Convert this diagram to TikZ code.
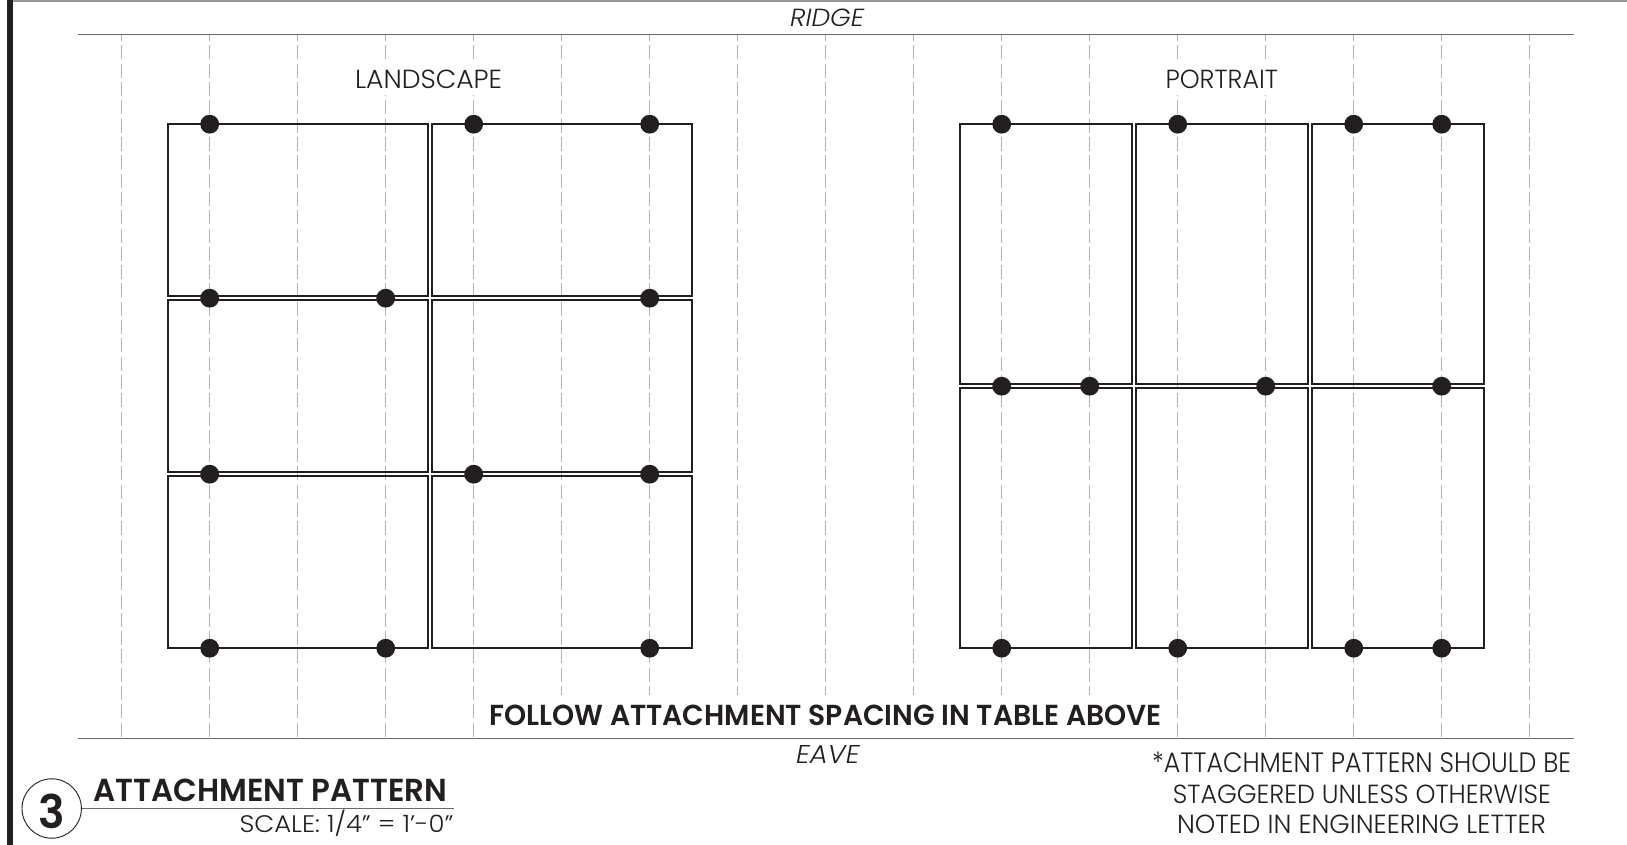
\documentclass[tikz,border=0pt]{standalone}
\usepackage{graphicx}
\usepackage{fontspec}
\setmainfont{Poppins}[UprightFont=* Light,ItalicFont=* Light Italic,BoldFont=* SemiBold]
\definecolor{ink}{HTML}{231F20}
\definecolor{rule}{HTML}{6A6A6A}
\definecolor{rafter}{HTML}{B4B4B4}
\tikzset{
  x=1pt,y=-1pt,
  txt/.style={inner sep=0pt,outer sep=0pt,text=ink,font=\fontsize{24}{24}\selectfont},
  edge line/.style={draw=rule,line width=1.3pt},
  rafter line/.style={draw=rafter,line width=1.5pt,dash pattern=on 14pt off 4.3pt,dash phase=7pt},
  panel/.style={draw=ink,line width=1.9pt,inner sep=0pt,outer sep=0pt},
  clip dot/.style={circle,fill=ink,minimum size=18.8pt,inner sep=0pt},
}
\newcommand{\lbl}[6]{% name, x-left, baseline, width, box height, text
  \node[txt,anchor=base west] (#1) at (#2,#3) {\resizebox{#4pt}{#5pt}{#6}};}
\begin{document}
\begin{tikzpicture}
\useasboundingbox (0,0) rectangle (1627,845);
\fill[white] (0,0) rectangle (1627,845);
\begin{scope}[yshift=-0.5pt]
% frame
\coordinate (ftl) at (10,0.5); \coordinate (ftr) at (1627,0.5); \coordinate (fbl) at (10,846);
\draw[draw=rule!70,line width=1.2pt] (ftl) -- (ftr);
\draw[draw=ink,line width=5.8pt] (fbl) -- (10,-1);
% rafters
\foreach \n in {0,...,16}{
  \pgfmathsetmacro{\x}{121.7+88*\n}
  \coordinate (rt\n) at (\x,33.7);
  \coordinate (rb\n) at (\x,738);
  \draw[rafter line] (rt\n) -- (rb\n);
}
% ridge and eave
\coordinate (rl) at (77.5,33.7); \coordinate (rr) at (1574,33.7);
\coordinate (el) at (77.5,738); \coordinate (er) at (1574,738);
\draw[edge line] (rl) -- (rr);
\draw[edge line] (el) -- (er);
% panels
\foreach \n/\a/\b/\c/\d in {
 la/167.6/123.7/427.7/295.7, lb/431.7/123.7/691.7/295.7,
 lc/167.6/299.7/427.7/471.7, ld/431.7/299.7/691.7/471.7,
 le/167.6/475.7/427.7/647.7, lf/431.7/475.7/691.7/647.7,
 pa/959.7/123.7/1132.2/383.7, pb/1135.7/123.7/1308.2/383.7, pc/1311.7/123.7/1484/383.7,
 pd/959.7/387.7/1132.2/647.7, pe/1135.7/387.7/1308.2/647.7, pf/1311.7/387.7/1484/647.7}{
  \draw[panel] (\a,\b) rectangle (\c,\d);
}
% clips
\foreach \n/\x/\y in {
 a1/209.7/123.7,a2/473.7/123.7,a3/649.7/123.7,
 b1/209.7/297.7,b2/385.7/297.7,b3/649.7/297.7,
 c1/209.7/473.7,c2/473.7/473.7,c3/649.7/473.7,
 d1/209.7/647.7,d2/385.7/647.7,d3/649.7/647.7,
 e1/1001.7/123.7,e2/1177.7/123.7,e3/1353.7/123.7,e4/1441.7/123.7,
 f1/1001.7/385.7,f2/1089.7/385.7,f3/1265.7/385.7,f4/1441.7/385.7,
 g1/1001.7/647.7,g2/1177.7/647.7,g3/1353.7/647.7,g4/1441.7/647.7}{
  \node[clip dot] (\n) at (\x,\y) {};
}
% white behind labels
\fill[white] (351,63) rectangle (506,95);
\fill[white] (1160,63) rectangle (1282,95);
\fill[white] (486,694) rectangle (1164,736);
% labels
\lbl{ridge}{790}{26.2}{74.5}{17.5}{\textit{RIDGE}}
\lbl{land}{355}{87.8}{147}{18.5}{LANDSCAPE}
\lbl{port}{1165.5}{87.8}{112.5}{18.5}{PORTRAIT}
\lbl{follow}{489.5}{724.5}{672}{20.5}{\textbf{FOLLOW ATTACHMENT SPACING IN TABLE ABOVE}}
\lbl{eave}{796}{762.8}{64}{18}{\textit{EAVE}}
\lbl{title}{93.5}{800.5}{354}{22.5}{\textbf{ATTACHMENT PATTERN}}
\lbl{scale}{239.5}{831.5}{214}{22.5}{SCALE: 1/4{\char34} = 1{\char39}-0{\char34}}
\lbl{n1}{1152}{771.5}{419}{20.5}{*ATTACHMENT PATTERN SHOULD BE}
\lbl{n2}{1172.8}{802.5}{378}{18.5}{STAGGERED UNLESS OTHERWISE}
\lbl{n3}{1177}{833}{369}{18.5}{NOTED IN ENGINEERING LETTER}
% callout
\node[circle,draw=ink,line width=0.9pt,minimum size=59.4pt,inner sep=0pt] (bubble) at (51.7,808) {};
\lbl{num}{38.5}{827.8}{26.5}{34.5}{\textbf{3}}
\coordinate (tr) at (454,808);
\draw[draw=rule,line width=1.2pt] (bubble.east) -- (tr);
\end{scope}
\end{tikzpicture}
\end{document}
